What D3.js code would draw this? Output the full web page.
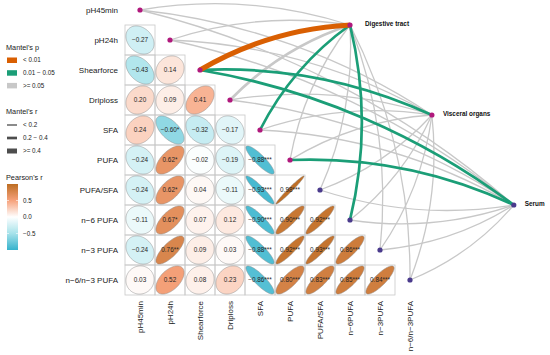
<!DOCTYPE html>
<html><head><meta charset="utf-8">
<script src="https://cdn.jsdelivr.net/npm/d3@7"></script>
<style>body{margin:0;background:#fff} svg{display:block;font-family:"Liberation Sans",Arial,sans-serif}</style>
</head><body><svg id="c" width="550" height="355"></svg>
<script>
// ---------------- data ----------------
const rowLabels = ["pH45min","pH24h","Shearforce","Driploss","SFA","PUFA","PUFA/SFA","n−6 PUFA","n−3 PUFA","n−6/n−3 PUFA"];
const colLabels = ["pH45min","pH24h","Shearforce","Driploss","SFA","PUFA","PUFA/SFA","n−6PUFA","n−3PUFA","n−6/n−3PUFA"];
// lower-triangle Pearson's r (row i, columns 0..i-1)
const corrRows = [
  [],
  [-0.27],
  [-0.43, 0.14],
  [0.20, 0.09, 0.41],
  [0.24, -0.60, -0.32, -0.17],
  [-0.24, 0.62, -0.02, -0.19, -0.88],
  [-0.24, 0.62, 0.04, -0.11, -0.93, 0.98],
  [-0.11, 0.67, 0.07, 0.12, -0.90, 0.90, 0.92],
  [-0.24, 0.76, 0.09, 0.03, -0.88, 0.92, 0.93, 0.86],
  [0.03, 0.52, 0.08, 0.23, -0.86, 0.80, 0.83, 0.85, 0.84]
];
const sigRows = [
  [],
  [""],
  ["",""],
  ["","",""],
  ["","*","",""],
  ["","*","","","***"],
  ["","*","","","***","***"],
  ["","*","","","***","***","***"],
  ["","**","","","***","***","***","***"],
  ["","","","","***","***","***","***","***"]
];
const envs = ["Digestive tract","Visceral organs","Serum"];
// Mantel test p and r (env x spec)
const mantelP = [
  [0.32, 0.41, 0.004, 0.12, 0.03, 0.22, 0.35, 0.04, 0.18, 0.45],
  [0.51, 0.38, 0.02, 0.27, 0.33, 0.19, 0.42, 0.29, 0.36, 0.48],
  [0.44, 0.26, 0.03, 0.39, 0.21, 0.04, 0.31, 0.17, 0.28, 0.37]
];
const mantelR = [
  [0.05, 0.08, 0.45, 0.22, 0.28, 0.10, 0.06, 0.27, 0.12, 0.04],
  [0.02, 0.09, 0.25, 0.11, 0.07, 0.13, 0.05, 0.10, 0.08, 0.03],
  [0.04, 0.12, 0.30, 0.06, 0.10, 0.26, 0.09, 0.14, 0.11, 0.07]
];
const pBreaks = [0.01, 0.05], pLabels = ["< 0.01","0.01 − 0.05",">= 0.05"];
const rBreaks = [0.2, 0.4], rLabels = ["< 0.2","0.2 − 0.4",">= 0.4"];
const barTicks = [0.5, 0.0, -0.5], barTickLabels = ["0.5","0.0","−0.5"];

// ---------------- scales ----------------
const svg = d3.select("#c");
const idx = d3.range(rowLabels.length);
const x = d3.scaleBand().domain(idx).range([125, 425]);
const y = d3.scaleBand().domain(idx).range([-5, 295]);
const bw = x.bandwidth();
const cx = i => x(i) + bw/2, cy = i => y(i) + bw/2;

const fill = d3.scaleLinear().domain([-1,-0.5,0,0.5,1])
  .range(["#36b2cc","#a6e2ea","#ffffff","#f6a27c","#bd6d22"]).clamp(true);
const pCol = d3.scaleThreshold().domain(pBreaks).range(["#D95F02","#1B9E77","#C8C8C8"]);
const rW = d3.scaleThreshold().domain(rBreaks).range([1.3, 2.7, 5]);

// ---------------- correlation cells ----------------
const cells = [];
corrRows.forEach((row, i) => row.forEach((r, j) => cells.push({i, j, r, s: sigRows[i][j]})));

const gC = svg.append("g");
gC.selectAll("rect").data(cells).join("rect")
  .attr("x", d => x(d.j)).attr("y", d => y(d.i))
  .attr("width", bw).attr("height", bw)
  .attr("fill", "none").attr("stroke", "#c9c9c9").attr("stroke-width", 0.8);

function ellipsePath(d) {
  const k = bw/2 * 0.94, dd = Math.acos(d.r), pts = [];
  for (let t = 0; t <= 2*Math.PI + 1e-6; t += Math.PI/40)
    pts.push([cx(d.j) + k*Math.cos(t + dd/2), cy(d.i) - k*Math.cos(t - dd/2)]);
  return d3.line()(pts) + "Z";
}
gC.selectAll("path").data(cells).join("path")
  .attr("d", ellipsePath).attr("fill", d => fill(d.r))
  .attr("stroke", "#8c8c8c").attr("stroke-width", 0.5);

const fmt = v => (v < 0 ? "−" : "") + Math.abs(v).toFixed(2);
gC.selectAll("text").data(cells).join("text")
  .attr("x", d => cx(d.j)).attr("y", d => cy(d.i)).attr("dy", "0.35em")
  .attr("text-anchor", "middle").attr("font-size", 6.4).attr("fill", "#262626")
  .text(d => fmt(d.r) + d.s);

// ---------------- axis labels ----------------
svg.append("g").selectAll("text").data(idx).join("text")
  .attr("x", 118).attr("y", i => cy(i)).attr("dy", "0.35em")
  .attr("text-anchor", "end").attr("font-size", 8).attr("fill", "#1a1a1a")
  .text(i => rowLabels[i]);
svg.append("g").selectAll("text").data(idx).join("text")
  .attr("transform", i => `translate(${cx(i)},301) rotate(-90)`).attr("dy", "0.35em")
  .attr("text-anchor", "end").attr("font-size", 8).attr("fill", "#1a1a1a")
  .text(i => colLabels[i]);

// ---------------- Mantel links ----------------
const envPos = envs.map((e, k) => ({
  x: cx(7) + bw * 2.73 * k,
  y: cy(0) + bw * (0.5 + 3 * k)
}));
const links = [];
mantelP.forEach((row, k) => row.forEach((p, i) => links.push({k, i, p, r: mantelR[k][i]})));
links.sort((a, b) => b.p - a.p);
const curv = 0.12;
function arc(d) {
  const x1 = cx(d.i), y1 = cy(d.i), x2 = envPos[d.k].x, y2 = envPos[d.k].y;
  const L = Math.hypot(x2 - x1, y2 - y1), s = curv * L / 2;
  const R = (L*L/4 + s*s) / (2*s);
  const sweep = d.i <= 5 ? 1 : 0;
  return `M${x1},${y1}A${R},${R} 0 0 ${sweep} ${x2},${y2}`;
}
svg.append("g").selectAll("path").data(links).join("path")
  .attr("d", arc).attr("fill", "none")
  .attr("stroke", d => pCol(d.p)).attr("stroke-width", d => rW(d.r))
  .attr("stroke-linecap", "butt");

// nodes
svg.append("g").selectAll("circle").data(idx).join("circle")
  .attr("cx", i => cx(i)).attr("cy", i => cy(i)).attr("r", 2.6)
  .attr("fill", i => i <= 5 ? "#b0187c" : "#4a3a8c");
svg.append("g").selectAll("circle").data(envPos).join("circle")
  .attr("cx", d => d.x).attr("cy", d => d.y).attr("r", 2.6)
  .attr("fill", (d, k) => k < 2 ? "#b0187c" : "#4a3a8c");
svg.append("g").selectAll("text").data(envPos).join("text")
  .attr("x", (d, k) => d.x + (k === 0 ? 15 : 11)).attr("y", d => d.y - 1.5).attr("dy", "0.35em")
  .attr("font-size", 6.4).attr("font-weight", "bold").attr("fill", "#111")
  .text((d, k) => envs[k]);

// ---------------- legends ----------------
const lg = svg.append("g").attr("font-size", 6.3).attr("fill", "#1a1a1a");
lg.append("text").attr("x", 6).attr("y", 47).attr("dy", "0.35em").attr("font-size", 7.3).text("Mantel's p");
const pVals = [0.005, 0.03, 0.5];
pVals.forEach((v, n) => {
  lg.append("rect").attr("x", 7).attr("y", 57.5 + n*12.7).attr("width", 10).attr("height", 5.5).attr("fill", pCol(v));
  lg.append("text").attr("x", 23).attr("y", 60.2 + n*12.7).attr("dy", "0.35em").text(pLabels[n]);
});
lg.append("text").attr("x", 6).attr("y", 111).attr("dy", "0.35em").attr("font-size", 7.3).text("Mantel's r");
const rVals = [0.1, 0.3, 0.5];
rVals.forEach((v, n) => {
  lg.append("line").attr("x1", 7).attr("x2", 17).attr("y1", 125 + n*13).attr("y2", 125 + n*13)
    .attr("stroke", "#4d4d4d").attr("stroke-width", rW(v));
  lg.append("text").attr("x", 23).attr("y", 125 + n*13).attr("dy", "0.35em").text(rLabels[n]);
});
lg.append("text").attr("x", 6).attr("y", 177).attr("dy", "0.35em").attr("font-size", 7.3).text("Pearson's r");
const by = d3.scaleLinear().domain([-1, 1]).range([250, 184]);
const grad = svg.append("defs").append("linearGradient").attr("id", "gb")
  .attr("x1", 0).attr("y1", 1).attr("x2", 0).attr("y2", 0);
d3.range(0, 1.0001, 0.05).forEach(t => grad.append("stop").attr("offset", t).attr("stop-color", fill(-1 + 2*t)));
lg.append("rect").attr("x", 7).attr("y", by(1)).attr("width", 11).attr("height", by(-1) - by(1)).attr("fill", "url(#gb)");
barTicks.forEach((v, n) => {
  lg.append("line").attr("x1", 7).attr("x2", 9).attr("y1", by(v)).attr("y2", by(v)).attr("stroke", "#fff").attr("stroke-width", 0.6);
  lg.append("line").attr("x1", 16).attr("x2", 18).attr("y1", by(v)).attr("y2", by(v)).attr("stroke", "#fff").attr("stroke-width", 0.6);
  lg.append("text").attr("x", 23).attr("y", by(v)).attr("dy", "0.35em").text(barTickLabels[n]);
});
</script></body></html>
